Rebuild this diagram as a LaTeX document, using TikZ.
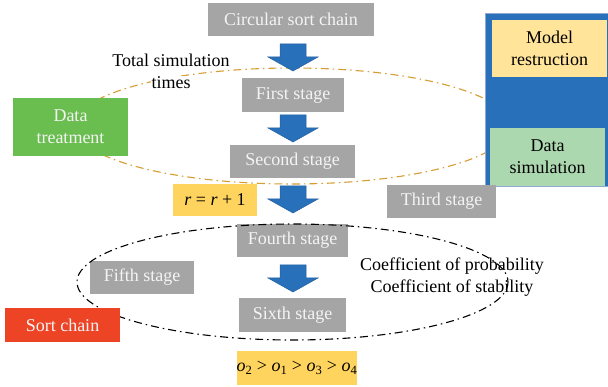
\documentclass[tikz,border=0pt]{standalone}
\usepackage{fontspec}
\setmainfont{Liberation Serif}
\definecolor{gboxc}{RGB}{165,165,165}
\definecolor{gtext}{RGB}{244,244,244}
\definecolor{treatc}{RGB}{106,190,80}
\definecolor{sortc}{RGB}{238,68,38}
\definecolor{yelc}{RGB}{255,212,94}
\definecolor{bigblue}{RGB}{40,112,185}
\definecolor{bigedge}{RGB}{143,170,210}
\definecolor{modelc}{RGB}{255,228,153}
\definecolor{simc}{RGB}{172,216,176}
\definecolor{arrowblue}{RGB}{40,112,185}
\definecolor{arrowedge}{RGB}{36,96,160}
\definecolor{orangec}{RGB}{214,158,50}
\begin{document}
\begin{tikzpicture}[x=1pt,y=-1pt,
  every node/.style={font=\fontsize{18}{22}\selectfont, inner sep=0pt, align=center},
  box/.style={rectangle, draw=none},
  graybox/.style={box, fill=gboxc, text=gtext},
  dashdot/.style={line width=1.1pt, dash pattern=on 8pt off 4pt on 1.5pt off 4pt},
  blockarrow/.pic={\path[fill=arrowblue, draw=arrowedge, line width=0.5pt]
     (-13,0) -- (13,0) -- (13,13) -- (25,13) -- (0,27) -- (-25,13) -- (-13,13) -- cycle;}]
\useasboundingbox (0,0) rectangle (608,387);
\fill[white] (0,0) rectangle (608,387);

% orange ellipse (behind)
\draw[dashdot, orangec] (292,126) ellipse [x radius=218, y radius=58];

% top chain
\node[graybox, minimum width=166, minimum height=33] (circ) at (291,19.5) {Circular sort chain};
\node[graybox, minimum width=102, minimum height=34] (first) at (293,95) {First stage};
\node[graybox, minimum width=125, minimum height=33] (second) at (292.5,161.5) {Second stage};
\node[box, fill=treatc, text=gtext, minimum width=115, minimum height=58] (treat) at (70.5,127) {Data\\treatment};

% big blue box
\node[box, fill=bigblue, draw=bigedge, line width=0.8pt, minimum width=126, minimum height=173] (big) at (548,99.5) {};
\node[box, fill=modelc, text=black, minimum width=115, minimum height=57] (model) at (549.5,48.5) {Model\\restruction};
\node[box, fill=simc, text=black, minimum width=115, minimum height=58] (sim) at (547.5,157) {Data\\simulation};

\node[graybox, minimum width=109, minimum height=33] (third) at (441.5,201.5) {Third stage};
\node[box, fill=yelc, text=black, minimum width=84, minimum height=32] (rbox) at (215,200) {\textit{r} = \textit{r} + 1};

\node[graybox, minimum width=111, minimum height=33] (fourth) at (292.5,240.5) {Fourth stage};
\node[graybox, minimum width=104, minimum height=33] (fifth) at (142,277.5) {Fifth stage};
\node[graybox, minimum width=107, minimum height=34] (sixth) at (292.5,315) {Sixth stage};
\node[box, fill=yelc, text=black, minimum width=120, minimum height=34] (obox) at (297,368)
  {\textit{o}\textsubscript{2} > \textit{o}\textsubscript{1} > \textit{o}\textsubscript{3} > \textit{o}\textsubscript{4}};

% block arrows
\pic at (293,44) {blockarrow};
\pic at (293,115) {blockarrow};
\pic at (293,186) {blockarrow};
\pic at (293,265) {blockarrow};

% texts
\setlength\fboxsep{1pt}
\node[text=black] (total) at (171,72) {Total simulation\\\colorbox{white}{times}};
\node[text=black] (coef) at (452,277.5) {Coefficient of probability\\Coefficient of stability};

% black ellipse
\draw[dashdot, black] (292.5,282) ellipse [x radius=215.5, y radius=58];

\node[box, fill=sortc, text=gtext, minimum width=115, minimum height=34] (sort) at (62.5,325) {Sort chain};
\end{tikzpicture}
\end{document}
